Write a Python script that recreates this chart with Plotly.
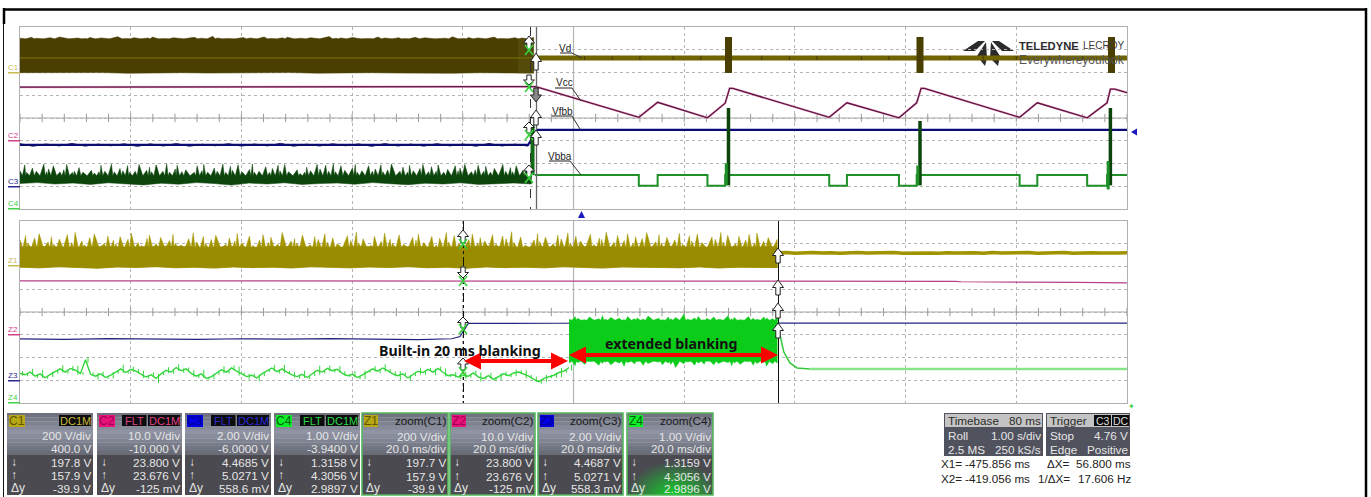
import numpy as np
import plotly.graph_objects as go

W, H = 1371, 497

# ---------- channel scaling (V/div, offset) ----------
C1_SCALE = (200.0, 400.0)
C2_SCALE = (10.0, -10.0)
C3_SCALE = (2.0, -6.0)
C4_SCALE = (1.0, -3.94)

# spacing pattern of the noise bursts along the envelopes
BURST_GAPS = [3,5,2,6,4,8,3,2,5,7,4,3,6,2,5,4,9,3,5,2,4,7,3,6]

# ---------- top (roll) view, time in s ----------
C1_TOP = [302,309,301,306,312,303,299,308,304,315,300,306,303,311,298,305,309,302,318,304,
          300,307,303,313,299,305,310,302,306,316,301,304,308,300,312,303,306,298,309,305,
          302,314,300,307,304,311,299,306,303,308]
C1_BASE_TOP = 296
C1_BOTTOM = [-2,-6,-3,-1,-7,-4,-2,-5,-8,-3,-1,-6,-4,-2,-5,-3,-7,-2,-4,-6]
C1_MID = 127
VD_T = [4.68, 10.0]
VD_V = [127, 127]
VD_TICK_T = [5.1,5.35,5.6,5.9,6.15,6.7,6.95,7.2,7.6,7.85,8.4,8.7,9.0,9.3,9.6]
VD_BURST_T = [6.40, 8.13, 9.86]
VD_BURST_LOW = -4
VD_BURST_HIGH = 312

VCC_T = [0,4.6,4.66,5.59,5.76,6.21,6.37,6.41,6.44,7.31,7.47,7.94,8.10,8.14,8.17,9.03,9.19,9.64,9.82,9.85,9.89,10.0]
VCC_V = [23.6,23.6,23.76,10.3,16.9,10.1,16.5,23.0,23.0,10.3,16.7,10.1,16.7,23.0,23.0,10.3,16.7,10.1,16.7,22.7,22.7,21.1]

VFBB_T = [0,4.59,4.67,10.0]
VFBB_V = [3.63,3.63,4.95,4.95]
VFBB_FLECK_V = [3.74,3.52,3.71,3.55,3.76,3.53,3.70,3.56,3.73,3.51,3.72,3.54,3.75,3.52,3.69,3.56,
                3.74,3.53,3.71,3.55,3.77,3.52,3.70,3.54,3.73,3.56,3.72,3.51,3.75,3.54,3.70,3.53,
                3.74,3.55,3.71,3.52,3.76,3.54,3.70,3.53]

VBBA_T = [4.65,5.59,5.59,5.76,5.76,6.21,6.21,6.37,6.37,7.31,7.31,7.47,7.47,7.94,7.94,8.10,8.10,
          9.03,9.03,9.19,9.19,9.64,9.64,9.82,9.82,10.0]
VBBA_V = [1.43,1.43,0.96,0.96,1.43,1.43,0.96,0.96,1.43,1.43,0.96,0.96,1.43,1.43,0.96,0.96,1.43,
          1.43,0.96,0.96,1.43,1.43,0.96,0.96,1.43,1.43]
VBBA_BURST_T = [6.40, 8.13, 9.85]
VBBA_BURST_TOP = [4.38, 3.81, 4.38]
VBBA_BURST_LOW = [0.98, 0.98, 0.98]
VBBA_FOOT_T = [6.38, 8.11, 9.83]
VBBA_FOOT_TOP = [1.95, 1.85, 2.05]
VBBA_FOOT_LOW = [0.98, 0.98, 0.80]
VBBA_STEP_T = 4.63
VBBA_STEP_V = [1.43, 3.63]
C4_PRE_BASE_TOP = 1.40
C4_PRE_TOP = [1.62,1.88,1.55,1.74,1.60,1.92,1.58,1.70,1.84,1.57,1.66,1.90,1.55,1.60,1.76,1.56,
              1.64,1.52,1.58,1.86,1.60,1.91,1.57,1.72,1.62,1.85,1.55,1.60,1.90,1.64,1.78,1.58,
              1.88,1.60,1.93,1.56,1.70,1.86,1.58,1.66,1.55,1.84,1.62,1.90,1.56,1.74,1.60,1.92,
              1.55,1.82,1.64,1.88,1.58,1.68,1.92,1.56,1.60,1.80,1.55,1.72,1.86,1.62,1.90,1.58,
              1.66,1.50,1.56,1.78,1.62,1.90,1.70,1.86,1.60,1.93,1.58,1.84,1.64,1.74,1.90,1.56,
              1.62,1.84,1.60,1.70,1.88,1.58,1.66,1.92,1.60,1.78,1.56,1.86,1.62,1.72,1.90,1.58,
              1.80,1.60,1.88,1.56,1.68,1.84,1.62,1.74,1.90,1.58,1.66,1.86,1.60,1.82,1.56,1.72,
              1.90,1.60,1.76,1.58,1.84,1.64,1.70,1.62]
C4_PRE_BOTTOM = [1.06,1.10,1.04,1.08,1.02,1.09,1.05,1.00,1.07,1.03,1.10,1.06,0.99,1.08,1.04,1.09,
                 1.02,1.06,1.08,1.03,1.10,1.05,1.01,1.07,1.04,1.09,1.02,1.06,1.08,1.04]

# ---------- bottom (zoom) view, time in ms ----------
Z1_SPIKE = [236,272,205,250,288,215,262,196,240,280,210,300,225,192,255,286,205,268,230,198,
            262,240,292,210,185,248,276,200,256,228,282,205,190,244,296,218,264,202,238,274,
            195,252,226,290,208,268,184,232,280,212,258,198,300,224,246,204,276,192,262,238,
            288,214,252,200,270,228,302,208,244,186,266,220,294,240,204,278,196,256,232,284,
            210,264,190,248,298,216,272,202,236,286,206,254,226,280,198,268,244,306,212,260,
            188,234,290,220,258,200,276,242,296,208,266,224,284,194,250,238,302,214,272,228,
            288,204,262,246,298,218,280,206,256,234,292,196,270,224,286,210,258,240,300,216,
            274,200,264,232,282,208,294,222,254,238]
Z1_BASE = [172,176,169,178,171,174,180,168,175,170,177,173,168,179,172,176,170,174,181,169,
           175,172,178,170,173,177,169,176,171,174]
Z1_BOTTOM = [-6,-12,-3,-9,-15,-5,-8,-2,-11,-7,-14,-4,-10,-6,-13,-3,-8,-12,-5,-9,
             -2,-11,-7,-15,-4,-10,-6,-12,-3,-8,-14,-5,-9,-7,-11,-4,-13,-6,-8,-10]
Z1_TAIL = [119,122,117,120,123,118,121,116,120,124,118,121,119,122,117,120,123,119,116,121,
           118,122,120,117,123,119,121,118,122,116,120,119,123,117,121,120,118,122,119,120]
Z1_TAIL_T = [136.8, 200.0]
Z2_T = [0,136.8,150,169,170,190,191,200]
Z2_V = [23.7,23.7,23.6,23.5,23.3,23.2,23.0,22.8]
Z3_T = [0,8,16,24,32,40,48,56,64,72,78,79.5,81,90,97,110,125,137,160,200]
Z3_V = [3.63,3.60,3.66,3.62,3.59,3.65,3.61,3.66,3.60,3.58,3.65,3.85,5.00,5.04,5.01,5.03,5.02,5.03,5.03,5.03]
Z4_PRE = [1.24,1.18,1.30,1.12,1.22,1.05,1.20,1.32,1.44,1.30,1.46,1.38,1.24,1.84,1.20,1.12,
          1.22,1.06,1.16,1.30,1.44,1.28,1.42,1.34,1.20,1.08,1.18,1.02,1.22,1.38,1.30,1.50,
          1.36,1.44,1.24,1.12,1.22,1.02,1.10,1.26,1.40,1.30,1.48,1.34,1.22,1.10,1.16,1.04,
          1.22,1.36,1.48,1.32,1.44,1.30,1.18,1.10,1.20,1.06,1.24,1.38,1.30,1.46,1.36,1.42,
          1.24,1.14,1.20,1.06,1.18,1.32,1.44,1.34,1.48,1.36,1.22,1.14,1.22,1.04,1.20,1.34,
          1.28,1.42,1.30,1.46,1.28,1.14,1.18,1.08,1.16,1.12,1.26,1.08,1.02,1.14,0.98,1.10,
          1.22,1.14,1.26,1.30,1.20,1.12,0.98,0.88,1.02,1.10,1.16,1.28,1.34,1.50]
Z4_NOISE = [0.10,0.06,0.14,0.08,0.18,0.05,0.12,0.09,0.16,0.07,0.11,0.20,0.06,0.13,0.08,0.15]
Z4_BAND_TOP, Z4_BAND_BOT = 3.58, 1.78
Z4_BURST_TOP = [3.62,3.74,3.66,3.60,3.72,3.64,3.78,3.62,3.70,3.66,3.60,3.74,3.64,3.68,3.62,3.76,
                3.66,3.60,3.72,3.64,3.70,3.84,3.62,3.68,3.74,3.60,3.66,3.72,3.62,3.78,3.64,3.70,
                3.60,3.74,3.66,3.62,3.72,3.68,3.64,3.76]
Z4_BURST_BOT = [1.70,1.58,1.72,1.64,1.76,1.60,1.68,1.74,1.62,1.70,1.56,1.72,1.66,1.76,1.60,1.68,
                1.74,1.62,1.70,1.64,1.50,1.66,1.74,1.60,1.70,1.64,1.76,1.62,1.68,1.72,1.58,1.70,
                1.64,1.76,1.60,1.68,1.72,1.56,1.66,1.70]
Z4_DECAY_T = [136.9,137.2,138.0,139.1,140.4,142.7]
Z4_DECAY_V = [3.68,3.06,2.18,1.70,1.48,1.43]
Z4_TAIL_T = [142.7,200.0]
Z4_TAIL_V = [1.43,1.43]

# ---------- readouts ----------
CH_NAMES = ["C1","C2","C3","C4"]
CH_TAGS = [["DC1M"],["FLT","DC1M"],["FLT","DC1M"],["FLT","DC1M"]]
CH_ROWS = [["200 V/div","400.0 V","197.8 V","157.9 V","-39.9 V"],
           ["10.0 V/div","-10.000 V","23.800 V","23.676 V","-125 mV"],
           ["2.00 V/div","-6.0000 V","4.4685 V","5.0271 V","558.6 mV"],
           ["1.00 V/div","-3.9400 V","1.3158 V","4.3056 V","2.9897 V"]]
Z_NAMES = ["Z1","Z2","Z3","Z4"]
Z_TITLES = ["zoom(C1)","zoom(C2)","zoom(C3)","zoom(C4)"]
Z_ROWS = [["200 V/div","20.0 ms/div","197.7 V","157.9 V","-39.9 V"],
          ["10.0 V/div","20.0 ms/div","23.800 V","23.676 V","-125 mV"],
          ["2.00 V/div","20.0 ms/div","4.4687 V","5.0271 V","558.3 mV"],
          ["1.00 V/div","20.0 ms/div","1.3159 V","4.3056 V","2.9896 V"]]
LOWER_LABELS = ["↓","↑","Δy"]
TIMEBASE = [("Timebase","80 ms"),("Roll","1.00 s/div"),("2.5 MS","250 kS/s")]
TRIGGER = [("Trigger",""),("Stop","4.76 V"),("Edge","Positive")]
CURSORS = [("X1=","-475.856 ms","ΔX=","56.800 ms"),("X2=","-419.056 ms","1/ΔX=","17.606 Hz")]

OLIVE_DK, OLIVE = "#4a3f00", "#9a8c00"
MAROON, PINK = "#5f1340", "#b8408a"
NAVY, NAVY2 = "#0a0a78", "#24247f"
GREEN_DK, GREEN, GREEN_LT = "#0c450c", "#1f8f28", "#0ccc1a"
FONT = "Liberation Sans"
ROW_SIZE = 11.7

def dv(v, scale):
    return (np.asarray(v, dtype=float) + scale[1]) / scale[0]

def px(x): return x / W
def py(y): return 1 - y / H

PX0, PX1 = 20, 1127
TOP = (27, 209)
BOT = (221, 403)

fig = go.Figure()
T, B = dict(xaxis="x", yaxis="y"), dict(xaxis="x2", yaxis="y2")

def add(x, y, color, width=1.0, axes=T, **kw):
    fig.add_trace(go.Scatter(x=x, y=y, mode="lines", line=dict(color=color, width=width),
                             hoverinfo="skip", showlegend=False, **axes, **kw))

def add_band(x_hi, hi, x_lo, lo, color, axes=T):
    xs = list(x_hi) + list(x_lo)[::-1]
    ys = list(hi) + list(lo)[::-1]
    fig.add_trace(go.Scatter(x=xs, y=ys, mode="lines", fill="toself", fillcolor=color,
                             line=dict(color=color, width=0.5), hoverinfo="skip",
                             showlegend=False, **axes))

def segs(ts, lo, hi):
    xs, ys = [], []
    for t, a, b in zip(ts, lo, hi):
        xs += [t, t, None]
        ys += [a, b, None]
    return xs, ys

def envelope(t0, t1, values, base):
    """Sawtooth outline: one read spike, then back to the solid part of the band."""
    gaps = [BURST_GAPS[i % len(BURST_GAPS)] for i in range(len(values))]
    pos = np.cumsum(gaps, dtype=float)
    pos = t0 + (pos - pos[0]) / (pos[-1] - pos[0]) * (t1 - t0)
    xs, ys = [], []
    for i, v in enumerate(values):
        xs.append(pos[i]); ys.append(v)
        if i + 1 < len(values):
            xs.append(pos[i] + (pos[i+1] - pos[i]) * 0.5); ys.append(base)
    return xs, ys

# centre-line ticks
tt = np.arange(0, 10.01, 0.2)
fig.add_trace(go.Scatter(x=tt, y=[0]*len(tt), mode="markers", marker=dict(symbol="line-ns", size=6, line=dict(width=1, color="#9a9a9a")),
                         hoverinfo="skip", showlegend=False, **T))
fig.add_trace(go.Scatter(x=tt*20, y=[0]*len(tt), mode="markers", marker=dict(symbol="line-ns", size=6, line=dict(width=1, color="#9a9a9a")),
                         hoverinfo="skip", showlegend=False, **B))

# --- top traces
TC = 4.64
ex, ey = envelope(0, TC, C1_TOP, C1_BASE_TOP)
add_band(ex, dv(ey, C1_SCALE), np.linspace(0, TC, len(C1_BOTTOM)), dv(C1_BOTTOM, C1_SCALE), OLIVE_DK)
add([0, TC], dv([C1_MID, C1_MID], C1_SCALE), "#665800", 2)
add([4.5, TC, TC, 4.5], dv([-6, -6, 296, 296], C1_SCALE), "rgba(120,110,30,0.25)", 0.1, fill="toself", fillcolor="rgba(120,110,30,0.25)")
add(VD_T, dv(VD_V, C1_SCALE), "#6f6400", 5)
x, y = segs(VD_TICK_T, dv([112]*len(VD_TICK_T), C1_SCALE), dv([142]*len(VD_TICK_T), C1_SCALE))
add(x, y, "#3e3500", 1)
x, y = segs(VD_BURST_T, dv([VD_BURST_LOW]*3, C1_SCALE), dv([VD_BURST_HIGH]*3, C1_SCALE))
add(x, y, OLIVE_DK, 7)
add(VCC_T, dv(VCC_V, C2_SCALE), "#e8a8c8", 2.2)
add(VCC_T, dv(VCC_V, C2_SCALE), MAROON, 1.3)
add(VFBB_T, dv(VFBB_V, C3_SCALE), NAVY, 2.2)
add(np.linspace(0, 4.59, len(VFBB_FLECK_V)), dv(VFBB_FLECK_V, C3_SCALE), "#101060", 1)
ex, ey = envelope(0, 4.62, C4_PRE_TOP, C4_PRE_BASE_TOP)
add_band(ex, dv(ey, C4_SCALE), np.linspace(0, 4.62, len(C4_PRE_BOTTOM)), dv(C4_PRE_BOTTOM, C4_SCALE), GREEN_DK)
add(VBBA_T, dv(VBBA_V, C4_SCALE), GREEN, 2)
add([VBBA_STEP_T]*2, dv(VBBA_STEP_V, C4_SCALE), "#126a16", 4)
x, y = segs(VBBA_BURST_T, dv(VBBA_BURST_LOW, C4_SCALE), dv(VBBA_BURST_TOP, C4_SCALE))
add(x, y, GREEN_DK, 3.5)
x, y = segs(VBBA_FOOT_T, dv(VBBA_FOOT_LOW, C4_SCALE), dv(VBBA_FOOT_TOP, C4_SCALE))
add(x, y, GREEN, 3)

# --- bottom traces
TZ = 136.8
ex, ey = envelope(0, TZ, Z1_SPIKE, 160)
add_band(ex, dv(ey, C1_SCALE), np.linspace(0, TZ, len(Z1_BOTTOM)), dv(Z1_BOTTOM, C1_SCALE), "#a39600", B)
add_band(np.linspace(0, TZ, len(Z1_BASE)), dv(Z1_BASE, C1_SCALE), np.linspace(0, TZ, len(Z1_BOTTOM)), dv(Z1_BOTTOM, C1_SCALE), OLIVE, B)
add(np.linspace(*Z1_TAIL_T, len(Z1_TAIL)), dv(Z1_TAIL, C1_SCALE), "#a09300", 3.5, B)
add(Z2_T, dv(Z2_V, C2_SCALE), PINK, 1.2, B)
add(Z3_T, dv(Z3_V, C3_SCALE), NAVY2, 1.2, B)
z4_t = np.linspace(0, 99.2, len(Z4_PRE))
add(z4_t, dv(Z4_PRE, C4_SCALE), "#33d63b", 1.4, B)
z4_amp = [Z4_NOISE[i % len(Z4_NOISE)] for i in range(len(Z4_PRE))]
x, y = segs(z4_t + 0.45, dv(np.array(Z4_PRE) - z4_amp, C4_SCALE), dv(np.array(Z4_PRE) + z4_amp, C4_SCALE))
add(x, y, "#33d63b", 1, B)
ex, ey = envelope(99.2, TZ, Z4_BURST_TOP, Z4_BAND_TOP)
bx, by = envelope(99.2, TZ, Z4_BURST_BOT, Z4_BAND_BOT)
add_band(ex, dv(ey, C4_SCALE), bx, dv(by, C4_SCALE), GREEN_LT, B)
add(Z4_DECAY_T, dv(Z4_DECAY_V, C4_SCALE), "#33c93b", 1.5, B)
add(Z4_TAIL_T, dv(Z4_TAIL_V, C4_SCALE), "#86e48a", 2.5, B)

# ---------- helpers for page furniture
shapes, ann = [], []

def rect(x0, y0, x1, y1, fill, line=None, lw=1, layer="above"):
    shapes.append(dict(type="rect", xref="paper", yref="paper", x0=px(x0), x1=px(x1), y0=py(y0), y1=py(y1),
                       fillcolor=fill, line=dict(color=line or fill, width=lw if line else 0), layer=layer))

def seg(x0, y0, x1, y1, color, lw=1, dash=None, layer="above"):
    shapes.append(dict(type="line", xref="paper", yref="paper", x0=px(x0), x1=px(x1), y0=py(y0), y1=py(y1),
                       line=dict(color=color, width=lw, dash=dash), layer=layer))

def poly(points, fill, line=None, lw=1, layer="above"):
    d = "M" + " L".join(f"{px(a):.5f},{py(b):.5f}" for a, b in points) + " Z"
    shapes.append(dict(type="path", xref="paper", yref="paper", path=d, fillcolor=fill,
                       line=dict(color=line or fill, width=lw if line else 0), layer=layer))

def text(x, y, s, size=12, color="#222", anchor="left", bold=False, family=FONT):
    ann.append(dict(xref="paper", yref="paper", x=px(x), y=py(y), text=f"<b>{s}</b>" if bold else s, showarrow=False,
                    xanchor=anchor, yanchor="middle", borderpad=0,
                    font=dict(size=size, color=color, family=family)))

def block_arrow(cx, tip, base, fill="#ffffff"):
    s = 1 if tip < base else -1
    h = abs(base - tip) * 0.5
    poly([(cx, tip), (cx+5.5, tip+s*h), (cx+2.2, tip+s*h), (cx+2.2, base), (cx-2.2, base), (cx-2.2, tip+s*h), (cx-5.5, tip+s*h)],
         fill, "#222222", 1)

def green_x(cx, cy):
    seg(cx-4, cy-5, cx+4, cy+5, "#37d13c", 1.6)
    seg(cx-4, cy+5, cx+4, cy-5, "#37d13c", 1.6)

def red_arrow(x0, x1, y):
    poly([(x0, y), (x0+17, y-8.5), (x0+17, y-2), (x1-17, y-2), (x1-17, y-8.5), (x1, y),
          (x1-17, y+8.5), (x1-17, y+2), (x0+17, y+2), (x0+17, y+8.5)], "#ff0000")

# centre lines
for t0, t1 in (TOP, BOT):
    mid = (t0 + t1) / 2
    seg(PX0, mid, PX1, mid, "#a8a8a8", 1.2, layer="below")
    seg(573.5, t0, 573.5, t1, "#b8b8b8", 1.2, layer="below")

# black page frame
seg(3, 9.5, 1367, 9.5, "#000000", 2.5)
seg(1366, 8, 1366, 497, "#000000", 2.5)
seg(4, 8, 4, 24, "#000000", 2.5)
seg(3.5, 24, 3.5, 497, "#111111", 1)

# cursors
seg(530.5, 27, 530.5, 209, "#333333", 1, "dash")
seg(536.5, 27, 536.5, 209, "#666666", 1.3)
seg(463.5, 221, 463.5, 403, "#111111", 1, "dashdot")
seg(778.5, 221, 778.5, 403, "#111111", 1)

for tip, base in [(36, 50), (85, 75), (122, 133), (165, 177)]:
    block_arrow(529, tip, base)
for cy in (50, 87, 135, 178):
    green_x(529, cy)
for tip, base, f in [(53, 70, "#ffffff"), (102, 88, "#888888"), (110, 125, "#ffffff"), (130, 145, "#ffffff")]:
    block_arrow(536, tip, base, f)
for tip, base in [(230, 243), (278, 267), (317, 328), (358, 370)]:
    block_arrow(463, tip, base)
for cy in (244, 281, 329, 372):
    green_x(463, cy)
for tip, base in [(248, 263), (280, 295), (303, 318), (323, 338)]:
    block_arrow(778, tip, base)

# markers
poly([(578, 218), (585, 218), (581.5, 211)], "#1a1ac0")
poly([(1131, 132), (1137, 128.5), (1137, 135.5)], "#1a1ac0")
text(1131, 406, "✦", 8, "#37d13c", "center", family="DejaVu Sans")

# channel tags at the left
for lab, y, col in [("C1", 67, "#c8bb50"), ("C2", 135, "#d0408a"), ("C3", 181, "#2a2a90"), ("C4", 203, "#40d04a"),
                    ("Z1", 260, "#c8bb50"), ("Z2", 329, "#d0408a"), ("Z3", 375, "#2a2a90"), ("Z4", 397, "#40d04a")]:
    text(13, y, lab, 8, col, "center")
    rect(8, y+5, 20, y+6.5, col)

# labels with leaders
for lab, tx, ty, u0, u1, uy, lx, ly in [("Vd", 565, 49, 560, 572, 53, 582, 58),
                                        ("Vcc", 564, 83, 555, 572, 88, 581, 101),
                                        ("Vfbb", 562, 111, 552, 572, 116, 580, 129),
                                        ("Vbba", 560, 156, 549, 570, 161, 581, 175)]:
    text(tx, ty, lab, 10, "#222222", "center")
    seg(u0, uy, u1, uy, "#222222", 1)
    seg(u1, uy, lx, ly, "#333333", 1)

# logo
poly([(963, 51), (978, 41), (985, 41), (975, 51)], "#2b2b2b", layer="below")
poly([(1014, 51), (999, 41), (992, 41), (1002, 51)], "#2b2b2b", layer="below")
poly([(977, 56), (986, 42), (987, 58), (985, 66)], "#2b2b2b", layer="below")
poly([(1000, 56), (991, 42), (990, 58), (998, 66)], "#2b2b2b", layer="below")
text(1018, 46, "TELEDYNE", 11.2, "#2b2b2b", bold=True)
text(1082, 46, "LECROY", 10, "#3a3a3a")
text(1018, 60, "Everywhereyoulook", 12, "#555555")

# chart captions
text(460, 350, "Built-in 20 ms blanking", 14.2, "#111111", "center", True, "Noto Sans")
text(671, 343, "extended blanking", 14.2, "#111111", "center", True, "Noto Sans")
red_arrow(464, 568, 361)
red_arrow(569, 778, 355)

# ---------- readout panels
def lerp(c0, c1, a):
    a = max(0.0, min(1.0, a))
    c = [int(round(int(c0[i:i+2], 16)*(1-a) + int(c1[i:i+2], 16)*a)) for i in (1, 3, 5)]
    return "#%02x%02x%02x" % tuple(c)

def panel_bg(x0, x1, y0=413, y1=495, split=455, glow=False, border=None):
    n = 10
    for i in range(n):
        a0 = y0 + (split - y0) * i / n
        a1 = y0 + (split - y0) * (i + 1) / n
        f = i / (n - 1)
        col = lerp("#70737f", "#8f93a3", f / 0.45) if f < 0.45 else lerp("#8f93a3", "#6a6c78", (f - 0.45) / 0.55)
        rect(x0, a0, x1, a1 + 0.4, col)
    rect(x0, split, x1, y1, "#4a4a50")
    if glow:
        cx, cy = (x0 + x1) / 2 + 4, y1 + 2
        for k in range(10):
            a = 1 - k / 10
            pts = []
            for th in np.linspace(0, 2*np.pi, 37):
                pts.append((min(x1, max(x0, cx + 46*a*np.cos(th))), min(y1, max(split + 3, cy + 34*a*np.sin(th)))))
            poly(pts, lerp("#4a4a50", "#12d02a", (k + 1) / 10))
    if border:
        shapes.append(dict(type="rect", xref="paper", yref="paper", x0=px(x0), x1=px(x1), y0=py(y0), y1=py(y1),
                           fillcolor="rgba(0,0,0,0)", line=dict(color=border, width=1.6), layer="above"))

CH_COL = ["#b8a818", "#e8127a", "#0000e0", "#10ee28"]
CH_TXT = ["#5f5500", "#a00050", "#000090", "#006010"]
TAG_TXT = ["#c9b93a", "#e0408a", "#2a2ad8", "#28d848"]
ROW_Y_C = [435, 448, 462, 475, 488]
ROW_Y_Z = [436, 448, 462, 476, 488]
C_BOXES = [(7, 93), (97, 182), (185, 271), (274, 360)]
Z_BOXES = [(362, 448), (450, 535), (538, 623), (627, 713)]

for i, (x0, x1) in enumerate(C_BOXES):
    panel_bg(x0, x1)
    rect(x0+2, 415, x0+18, 427, CH_COL[i])
    text(x0+10, 421, CH_NAMES[i], 12, CH_TXT[i], "center")
    xr = x1 - 2
    for tag in CH_TAGS[i][::-1]:
        w = 7.5 * len(tag) + 2
        rect(xr - w, 415, xr, 426, "#0c0c0c")
        text(xr - w/2, 420.5, tag, 11, TAG_TXT[i], "center")
        xr -= w + 1.5
    for y, s in zip(ROW_Y_C, CH_ROWS[i]):
        text(x1 - 1, y, s, ROW_SIZE, "#e6e6e6", "right")
    for y, s in zip(ROW_Y_C[2:], LOWER_LABELS):
        text(x0 + 3, y, s, 12, "#e6e6e6")

for i, (x0, x1) in enumerate(Z_BOXES):
    panel_bg(x0, x1, glow=(i == 3), border="#56b85e")
    rect(x0+2, 415, x0+16, 427, CH_COL[i])
    text(x0+9, 421, Z_NAMES[i], 12, CH_TXT[i], "center")
    text(x1 - 1, 420, Z_TITLES[i], ROW_SIZE, "#1a1a1a", "right")
    for y, s in zip(ROW_Y_Z, Z_ROWS[i]):
        text(x1 - 1, y, s, ROW_SIZE, "#e6e6e6", "right")
    for y, s in zip(ROW_Y_Z[2:], LOWER_LABELS):
        text(x0 + 3, y, s, 12, "#e6e6e6")

def info_box(x0, x1, rows):
    rect(x0, 413, x1, 456, "#50525e")
    rect(x0 + 1, 414, x1 - 1, 427, "#c4c4c4")
    for (l, r), y in zip(rows, (420, 435, 449)):
        col = "#2a2a2a" if y == 420 else "#e6e6e6"
        text(x0 + 3, y, l, ROW_SIZE, col)
        if r:
            text(x1 - 1, y, r, ROW_SIZE, col, "right")

info_box(944, 1043, TIMEBASE)
info_box(1046, 1130, TRIGGER)
rect(1094, 415, 1111, 426, "#0c0c0c")
rect(1112, 415, 1129, 426, "#0c0c0c")
text(1102.5, 420.5, "C3", 10.5, "#dddddd", "center")
text(1120.5, 420.5, "DC", 10.5, "#dddddd", "center")

for (a, b, c, d), y in zip(CURSORS, (463, 478)):
    text(940, y, a, ROW_SIZE, "#222222")
    text(1031, y, b, ROW_SIZE, "#222222", "right")
    text(1071, y, c, ROW_SIZE, "#222222", "right")
    text(1132, y, d, ROW_SIZE, "#222222", "right")

# ---------- axes
def xa(rng, dt, anchor):
    return dict(domain=[px(PX0), px(PX1)], range=rng, dtick=dt, tick0=0, showticklabels=False, ticks="",
                showgrid=True, gridcolor="#b4b4b4", griddash="dot", gridwidth=1, zeroline=False,
                showline=True, mirror=True, linecolor="#b0b0b0", linewidth=1, anchor=anchor, fixedrange=True)

def ya(t, anchor):
    return dict(domain=[py(t[1]), py(t[0])], range=[-4, 4], dtick=1, tick0=0, showticklabels=False, ticks="",
                showgrid=True, gridcolor="#b4b4b4", griddash="dot", gridwidth=1, zeroline=False,
                showline=True, mirror=True, linecolor="#b0b0b0", linewidth=1, anchor=anchor, fixedrange=True)

fig.update_layout(width=W, height=H, margin=dict(l=0, r=0, t=0, b=0), autosize=False,
                  paper_bgcolor="white", plot_bgcolor="white", showlegend=False,
                  xaxis=xa([0, 10], 1, "y"), yaxis=ya(TOP, "x"),
                  xaxis2=xa([0, 200], 20, "y2"), yaxis2=ya(BOT, "x2"),
                  shapes=shapes, annotations=ann)

fig.write_html("out.html", config=dict(displayModeBar=False),
               post_script="document.body.style.margin='0';document.body.style.overflow='hidden';")
